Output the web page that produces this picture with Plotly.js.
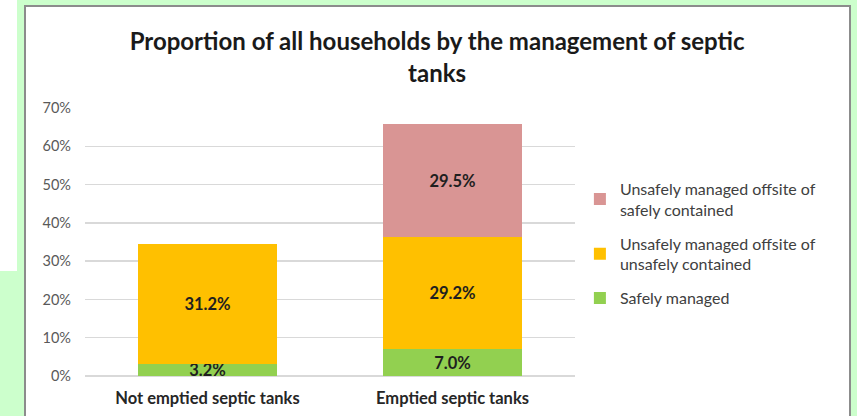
<!DOCTYPE html>
<html>
<head>
<meta charset="utf-8">
<script src="https://cdn.plot.ly/plotly-3.0.1.min.js"></script>
<style>
  html, body { margin: 0; padding: 0; background: #CCFFCC; width: 857px; height: 416px; overflow: hidden; }
  #leftstrip { position: absolute; left: 0; top: 0; width: 17px; height: 271px; background: #ffffff; }
  #box { position: absolute; left: 24px; top: 5px; width: 823px; height: 420px; background: #ffffff; border: 2px solid #8c8c8c; }
  #chart { position: absolute; left: 0; top: 0; width: 857px; height: 416px; }
</style>
</head>
<body>
<div id="leftstrip"></div>
<div id="box"></div>
<div id="chart"></div>
<script>
const categories = ["Not emptied septic tanks", "Emptied septic tanks"];
const seriesNames = [
  "Safely managed",
  "Unsafely managed offsite of<br>unsafely contained",
  "Unsafely managed offsite of<br>safely contained"
];
const safelyManaged = [3.2, 7.0];
const unsafelyOfUnsafelyContained = [31.2, 29.2];
const unsafelyOfSafelyContained = [null, 29.5];
const yTickVals = [0, 10, 20, 30, 40, 50, 60, 70];
const yTickText = ["0%", "10%", "20%", "30%", "40%", "50%", "60%", "70%"];

const colors = ["#92D050", "#FFC000", "#D99594"];
const seriesValues = [safelyManaged, unsafelyOfUnsafelyContained, unsafelyOfSafelyContained];
const legendRanks = [3, 2, 1];
const FONT = "Lato, 'Open Sans', sans-serif";

const traces = seriesValues.map((vals, i) => ({
  type: "bar",
  name: seriesNames[i],
  legendgroup: "g" + i,
  legendrank: legendRanks[i],
  x: categories,
  y: vals,
  marker: { color: colors[i], line: { width: 0 } },
  width: 0.571,
  text: vals.map(v => v == null ? "" : v.toFixed(1) + "%"),
  textposition: "inside",
  insidetextanchor: "middle",
  constraintext: "none",
  cliponaxis: false,
  textangle: 0,
  textfont: { family: FONT, size: 16.5, color: "#1f1f1f", weight: "bold" },
  hoverinfo: "skip"
}));

const layout = {
  width: 857,
  height: 416,
  margin: { l: 85, r: 282, t: 108, b: 40 },
  paper_bgcolor: "rgba(0,0,0,0)",
  plot_bgcolor: "rgba(0,0,0,0)",
  barmode: "stack",
  uniformtext: { mode: false },
  title: {
    text: "<b>Proportion of all households by the management of septic<br>tanks</b>",
    font: { family: FONT, size: 24, color: "#1a1a1a" },
    xref: "container", x: 0.51, xanchor: "center",
    yref: "container", y: 0.879, yanchor: "middle"
  },
  xaxis: {
    type: "category",
    range: [-0.5, 1.5],
    showgrid: false,
    showline: false,
    ticks: "",
    ticklabelstandoff: 10,
    tickfont: { family: FONT, size: 16.5, color: "#262626", weight: "bold" },
    fixedrange: true
  },
  yaxis: {
    range: [0, 70],
    tickvals: yTickVals,
    ticktext: yTickText,
    showgrid: true,
    gridcolor: "#D9D9D9",
    gridwidth: 1.3,
    zeroline: true,
    zerolinecolor: "#D9D9D9",
    zerolinewidth: 1.3,
    showline: false,
    ticks: "",
    ticklabelstandoff: 13,
    tickfont: { family: FONT, size: 14.5, color: "#595959" },
    fixedrange: true
  },
  showlegend: true,
  legend: {
    x: 1.01, xanchor: "left",
    y: 0.762, yanchor: "top",
    traceorder: "grouped",
    tracegroupgap: 10,
    font: { family: FONT, size: 16, color: "#404040" },
    bgcolor: "rgba(0,0,0,0)",
    itemwidth: 30
  }
};

Plotly.newPlot("chart", traces, layout, { displayModeBar: false, staticPlot: true });
</script>
</body>
</html>
